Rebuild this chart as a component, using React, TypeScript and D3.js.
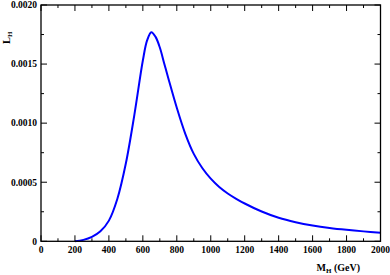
import React, { useEffect, useRef } from 'react';
import * as d3 from 'd3';

// M_H (GeV) and L_H
const massGeV = [200, 250, 300, 350, 400, 450, 500, 550, 600, 625, 650, 675, 700, 725, 750, 800, 850, 900, 950, 1000, 1050, 1100, 1150, 1200, 1300, 1400, 1500, 1600, 1700, 1800, 1900, 2000];
const lumiH = [0, 0.000012, 0.000038, 0.000085, 0.000175, 0.00036, 0.00066, 0.00107, 0.00153, 0.0017, 0.00177, 0.00173, 0.00164, 0.00151, 0.00138, 0.00113, 0.00091, 0.00074, 0.00062, 0.00053, 0.00046, 0.000405, 0.00036, 0.00032, 0.000252, 0.000199, 0.000162, 0.000134, 0.000113, 0.000097, 0.000084, 0.000073];

const xTicks = [0, 200, 400, 600, 800, 1000, 1200, 1400, 1600, 1800, 2000];
const xMinor = d3.range(100, 2000, 200);
const yTicks = [0, 0.0005, 0.001, 0.0015, 0.002];
const yTickLabels = ['0', '0.0005', '0.0010', '0.0015', '0.0020'];
const yMinor = [0.00025, 0.00075, 0.00125, 0.00175];

const W = 390, H = 275;
const left = 41, right = 380.5, top = 5, bottom = 241.3;

export default function App() {
  const svgRef = useRef<SVGSVGElement | null>(null);

  useEffect(() => {
    const svg = d3.select(svgRef.current);
    svg.selectAll('*').remove();

    const x = d3.scaleLinear().domain([0, 2000]).range([left, right]);
    const y = d3.scaleLinear().domain([0, 0.002]).range([bottom, top]);

    const font = '"Liberation Serif", "Times New Roman", serif';

    // curve
    const pts = massGeV.map((m, i) => [m, lumiH[i]] as [number, number]);
    const line = d3.line<[number, number]>()
      .x(d => x(d[0]))
      .y(d => y(d[1]))
      .curve(d3.curveCatmullRom.alpha(0.5));
    svg.append('path')
      .attr('d', line(pts))
      .attr('fill', 'none')
      .attr('stroke', '#0000ff')
      .attr('stroke-width', 2);

    // frame
    svg.append('rect')
      .attr('x', left).attr('y', top)
      .attr('width', right - left).attr('height', bottom - top)
      .attr('fill', 'none').attr('stroke', '#000').attr('stroke-width', 1.3);

    const g = svg.append('g').attr('stroke', '#000').attr('stroke-width', 1);

    // x ticks, bottom and top, inward
    xTicks.concat(xMinor).forEach(v => {
      const len = xTicks.includes(v) ? 6 : 3;
      g.append('line').attr('x1', x(v)).attr('x2', x(v)).attr('y1', bottom).attr('y2', bottom - len);
      g.append('line').attr('x1', x(v)).attr('x2', x(v)).attr('y1', top).attr('y2', top + len);
    });
    // y ticks, left and right, inward
    yTicks.concat(yMinor).forEach(v => {
      const len = yTicks.includes(v) ? 6 : 3;
      g.append('line').attr('y1', y(v)).attr('y2', y(v)).attr('x1', left).attr('x2', left + len);
      g.append('line').attr('y1', y(v)).attr('y2', y(v)).attr('x1', right).attr('x2', right - len);
    });

    // tick labels
    svg.append('g').selectAll('text').data(xTicks).join('text')
      .attr('x', d => x(d)).attr('y', 253)
      .attr('text-anchor', 'middle')
      .attr('font-family', font).attr('font-weight', 'bold').attr('font-size', 9.5)
      .text(d => String(d));

    svg.append('g').selectAll('text').data(yTicks).join('text')
      .attr('x', 37).attr('y', d => y(d) + 3.3)
      .attr('text-anchor', 'end')
      .attr('font-family', font).attr('font-weight', 'bold').attr('font-size', 9.5)
      .text((d, i) => yTickLabels[i]);

    // axis titles
    const xt = svg.append('text')
      .attr('x', 360).attr('y', 270.5)
      .attr('text-anchor', 'end')
      .attr('font-family', font).attr('font-weight', 'bold').attr('font-size', 10);
    xt.append('tspan').text('M');
    xt.append('tspan').attr('font-size', 7).attr('dy', 2).text('H');
    xt.append('tspan').attr('dy', -2).text(' (GeV)');

    const yt = svg.append('text')
      .attr('transform', 'translate(10,44) rotate(-90)')
      .attr('font-family', font).attr('font-weight', 'bold').attr('font-size', 10.5);
    yt.append('tspan').text('L');
    yt.append('tspan').attr('font-size', 7).attr('dy', 2).text('H');
  }, []);

  return (
    <svg
      ref={svgRef}
      width={W}
      height={H}
      style={{ position: 'absolute', left: 0, top: 0, background: '#fff' }}
    />
  );
}
